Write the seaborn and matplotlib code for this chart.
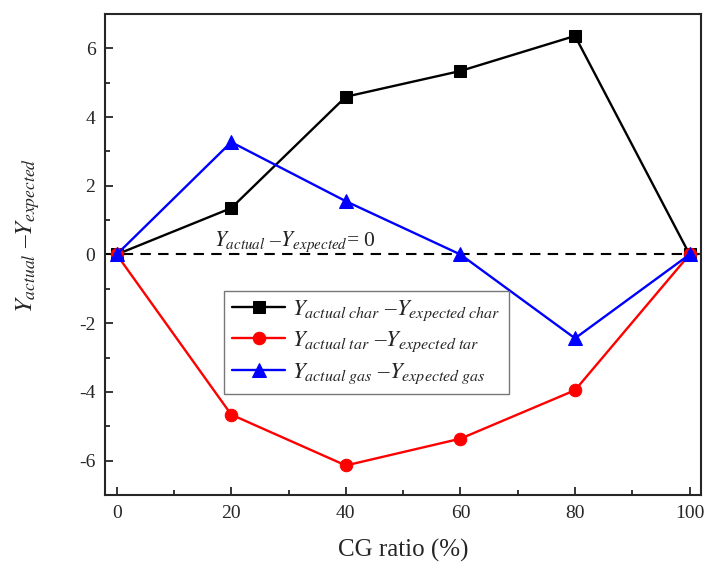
import matplotlib
matplotlib.use("Agg")
import matplotlib.pyplot as plt
import seaborn as sns
import pandas as pd
from matplotlib.ticker import MultipleLocator

cg_ratio = [0, 20, 40, 60, 80, 100]
char_diff = [0, 1.35, 4.59, 5.34, 6.36, 0]
tar_diff = [0, -4.66, -6.14, -5.36, -3.95, 0]
gas_diff = [0, 3.27, 1.55, 0, -2.44, 0]

labels = ['$Y_{actual\\ char}$ \u2013$Y_{expected\\ char}$',
          '$Y_{actual\\ tar}$ \u2013$Y_{expected\\ tar}$',
          '$Y_{actual\\ gas}$ \u2013$Y_{expected\\ gas}$']

sns.set_style("ticks")
plt.rcParams['font.family'] = ['Liberation Serif', 'DejaVu Serif']
plt.rcParams['mathtext.fontset'] = 'stix'
plt.rcParams['axes.unicode_minus'] = False

fig = plt.figure(figsize=(7.06, 5.64), dpi=100)
ax = fig.add_axes([0.149, 0.1223, 0.844, 0.853])

series = [(char_diff, 'black', 's', 8), (tar_diff, 'red', 'o', 9), (gas_diff, 'blue', '^', 9.5)]
for (vals, color, mk, ms), lab in zip(series, labels):
    df = pd.DataFrame({'x': cg_ratio, 'y': vals})
    sns.lineplot(data=df, x='x', y='y', ax=ax, color=color, marker=mk,
                 markersize=ms, markeredgecolor=color, linewidth=1.7, label=lab)

ax.axhline(0, color='black', linestyle=(0, (5, 3.5)), linewidth=1.5, zorder=1)
ax.text(17, 0.25, '$Y_{actual}$ \u2013$Y_{expected}$= 0', fontsize=15.5, color='#222222')

ax.set_xlim(-2, 102)
ax.set_ylim(-7, 7)
ax.xaxis.set_major_locator(MultipleLocator(20))
ax.xaxis.set_minor_locator(MultipleLocator(10))
ax.yaxis.set_major_locator(MultipleLocator(2))
ax.yaxis.set_minor_locator(MultipleLocator(1))
ax.tick_params(which='major', direction='in', length=6, width=1.3, labelsize=14, pad=7)
ax.tick_params(which='minor', direction='in', length=3.5, width=1.3)
for s in ax.spines.values():
    s.set_linewidth(1.5)

ax.set_xlabel('CG ratio (%)', fontsize=18, labelpad=12)
ax.set_ylabel('$Y_{actual}$ \u2013$Y_{expected}$', fontsize=18)
ax.yaxis.set_label_coords(-0.106, 0.54)

leg = ax.legend(loc='upper left', bbox_to_anchor=(0.2, 0.425), fontsize=16.5, frameon=True,
                fancybox=False, edgecolor='#777777', framealpha=1, handlelength=2.3,
                handletextpad=0.3, borderpad=0.35, labelspacing=0.3, borderaxespad=0)
leg.get_frame().set_linewidth(1.0)

fig.savefig('out.png', dpi=100)
